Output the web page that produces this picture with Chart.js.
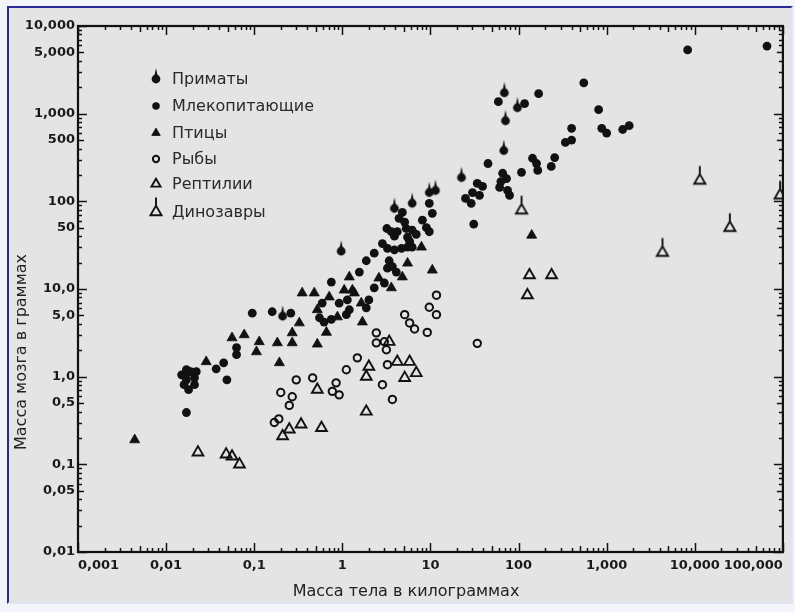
<!DOCTYPE html>
<html lang="ru">
<head>
  <meta charset="UTF-8">
  <title>Масса мозга и масса тела</title>
  <script src="https://cdn.jsdelivr.net/npm/chart.js"></script>
  <style>
    html, body { margin: 0; padding: 0; background: #f3f5fb; }
    #frame {
      position: absolute; left: 7px; top: 6px; width: 782px; height: 594px;
      border-top: 2px solid #2a2a96; border-left: 2px solid #2a2a96;
      border-right: 2px solid #dfe3f3; border-bottom: 2px solid #dfe3f3;
      background: #e4e4e4; overflow: hidden;
    }
    #chart { display: block; }
  </style>
</head>
<body>
<div id="frame"><canvas id="chart" width="782" height="594"></canvas></div>

<script>
  // масса тела (кг), масса мозга (г)
  const seriesNames = ['Приматы', 'Млекопитающие', 'Птицы', 'Рыбы', 'Рептилии', 'Динозавры'];

  const primates = [[69,1730],[97,1170],[71,830],[68,380],[22.5,187],[11.4,133],[9.7,126],
    [6.2,95],[3.9,83],[0.97,27],[0.21,4.9]];

  const mammals = [[8300,5340],[66000,5900],[550,2250],[169,1690],[59,1370],[117,1300],[810,1110],
    [880,680],[1000,600],[1520,660],[1800,730],[400,680],[340,470],[400,500],[257,316],[235,250],
    [144,310],[160,270],[165,225],[108,214],[45,270],[66,209],[73,182],[63,168],[61,144],[75,133],
    [79,117],[34,160],[39,148],[30,126],[36,117],[29,95],[25,108],[31,55],
    [9.7,95],[10.5,73],[4.8,75],[4.4,64],[5.1,58],[8.1,61],[9.0,50],[9.7,45],[3.2,49],[3.6,45],
    [3.9,40],[4.2,45],[5.3,49],[6.2,47],[6.9,42],[5.5,39],[5.8,35],[2.85,33],[3.25,29],[3.9,28],
    [4.7,29],[5.5,30],[6.2,30],[3.4,21],[3.7,18],[4.1,15.6],[3.25,17.3],[1.87,21],[2.3,25.6],
    [1.56,15.6],[0.75,12],[2.3,10.3],[3.0,11.7],
    [0.16,5.5],[0.26,5.3],[0.095,5.3],[0.59,6.9],[0.92,6.9],[1.14,7.5],[2.0,7.5],[1.87,6.1],
    [0.55,4.7],[0.62,4.2],[0.75,4.5],[1.11,5.1],[1.2,5.8],
    [0.017,0.39],[0.049,0.92],[0.015,1.05],[0.017,1.2],[0.019,1.14],[0.021,0.97],[0.016,0.81],
    [0.018,0.71],[0.021,0.81],[0.017,0.92],[0.022,1.14],[0.0165,1.0],[0.037,1.23],[0.045,1.44],
    [0.063,2.14],[0.063,1.78]];

  const birds = [[0.0044,0.19],[0.0285,1.48],[0.056,2.77],[0.077,3.0],[0.114,2.5],[0.106,1.92],
    [0.183,2.43],[0.193,1.44],[0.27,3.16],[0.27,2.43],[0.325,4.1],[0.35,9.0],[0.48,9.0],[0.52,5.8],
    [0.52,2.35],[0.66,3.2],[0.71,8.1],[0.88,4.8],[1.05,9.7],[1.3,9.7],[1.2,13.7],[1.37,9.0],
    [1.64,6.9],[1.69,4.2],[5.5,19.7],[4.8,13.7],[7.9,30],[10.5,16.4],[141,41],[2.6,13.3],[3.6,10.3]];

  const fish = [[0.169,0.30],[0.19,0.33],[0.20,0.66],[0.27,0.59],[0.25,0.47],[0.30,0.92],[0.46,0.97],
    [0.77,0.68],[0.85,0.85],[0.92,0.62],[1.11,1.2],[1.48,1.64],[2.43,3.16],[2.43,2.43],[3.0,2.5],
    [3.16,2.03],[2.85,0.81],[3.25,1.37],[3.7,0.55],[5.1,5.1],[5.8,4.1],[6.6,3.5],[9.2,3.2],
    [9.7,6.2],[11.7,8.5],[11.7,5.1],[34,2.4]];

  const reptiles = [[0.023,0.137],[0.048,0.13],[0.056,0.123],[0.068,0.10],[0.21,0.21],[0.25,0.25],
    [0.34,0.285],[0.58,0.26],[0.52,0.71],[1.87,0.40],[1.87,1.0],[2.0,1.3],[3.4,2.5],[4.2,1.48],
    [5.8,1.48],[6.9,1.1],[5.1,0.97],[133,14.4],[237,14.4],[126,8.5]];

  const dinosaurs = [[108,79],[4300,26],[11400,173],[25000,50],[93000,117]];

  const xTickValues = [0.001, 0.01, 0.1, 1, 10, 100, 1000, 10000, 100000];
  const xTickLabels = ['0,001', '0,01', '0,1', '1', '10', '100', '1,000', '10,000', '100,000'];
  const yTickValues = [0.01, 0.05, 0.1, 0.5, 1, 5, 10, 50, 100, 500, 1000, 5000, 10000];
  const yTickLabels = ['0,01', '0,05', '0,1', '0,5', '1,0', '5,0', '10,0', '50', '100', '500', '1,000', '5,000', '10,000'];

  const xTitle = 'Масса тела в килограммах';
  const yTitle = 'Масса мозга в граммах';

  const INK = '#111';
  const FONT = 'DejaVu Sans';

  // маркеры со "штырьком" сверху (приматы, динозавры)
  function makeMarker(kind) {
    const c = document.createElement('canvas');
    c.width = 16; c.height = 34;
    const g = c.getContext('2d');
    const cx = 8, cy = 17;
    g.fillStyle = INK; g.strokeStyle = INK;
    if (kind === 'primate') {
      g.beginPath(); g.arc(cx, cy, 4.4, 0, Math.PI * 2); g.fill();
      g.beginPath(); g.moveTo(cx - 1.8, cy - 2); g.lineTo(cx, cy - 11); g.lineTo(cx + 1.8, cy - 2); g.fill();
    } else {
      const r = 6.4;
      g.lineWidth = 1.9;
      g.beginPath();
      g.moveTo(cx, cy - r); g.lineTo(cx + r * 0.866, cy + r * 0.5); g.lineTo(cx - r * 0.866, cy + r * 0.5);
      g.closePath(); g.stroke();
      g.beginPath(); g.moveTo(cx, cy - r); g.lineTo(cx, cy - r - 8); g.stroke();
    }
    return c;
  }
  const primateMark = makeMarker('primate');
  const dinoMark = makeMarker('dino');

  const toXY = arr => arr.map(p => ({ x: p[0], y: p[1] }));

  const styles = {
    'Приматы':       { pointStyle: primateMark, pointRadius: 4.4, pointBackgroundColor: INK, pointBorderWidth: 0 },
    'Млекопитающие': { pointStyle: 'circle', pointRadius: 4.4, pointBackgroundColor: INK, pointBorderWidth: 0 },
    'Птицы':         { pointStyle: 'triangle', pointRadius: 5.8, pointBackgroundColor: INK, pointBorderColor: INK, pointBorderWidth: 0.8 },
    'Рыбы':          { pointStyle: 'circle', pointRadius: 3.7, pointBackgroundColor: 'rgba(0,0,0,0)', pointBorderColor: INK, pointBorderWidth: 2 },
    'Рептилии':      { pointStyle: 'triangle', pointRadius: 6.2, pointBackgroundColor: 'rgba(0,0,0,0)', pointBorderColor: INK, pointBorderWidth: 1.9 },
    'Динозавры':     { pointStyle: dinoMark, pointRadius: 6.4, pointBackgroundColor: INK, pointBorderWidth: 0 }
  };

  const seriesData = {
    'Приматы': primates, 'Млекопитающие': mammals, 'Птицы': birds,
    'Рыбы': fish, 'Рептилии': reptiles, 'Динозавры': dinosaurs
  };

  // порядок отрисовки: сначала открытые значки
  const drawOrder = ['Рыбы', 'Рептилии', 'Динозавры', 'Птицы', 'Млекопитающие', 'Приматы'];
  const datasets = drawOrder.map(name => Object.assign({
    label: name,
    data: toXY(seriesData[name]),
    showLine: false
  }, styles[name]));

  function logTicks(min, max) {
    const out = [];
    const e0 = Math.round(Math.log10(min)), e1 = Math.round(Math.log10(max));
    for (let e = e0; e < e1; e++) {
      for (let m = 1; m <= 9; m++) out.push([m * Math.pow(10, e), m === 1 ? 9 : (m === 5 ? 6 : 4)]);
    }
    out.push([max, 9]);
    return out;
  }

  const frameAndTicks = {
    id: 'frameAndTicks',
    beforeDatasetsDraw(chart) {
      const { ctx, chartArea: ca, scales: { x, y } } = chart;
      ctx.save();
      ctx.strokeStyle = INK;
      ctx.lineWidth = 1.5;
      ctx.beginPath();
      logTicks(x.min, x.max).forEach(([v, len]) => {
        const px = Math.round(x.getPixelForValue(v)) + 0.5;
        ctx.moveTo(px, ca.bottom); ctx.lineTo(px, ca.bottom - len);
        ctx.moveTo(px, ca.top); ctx.lineTo(px, ca.top + len);
      });
      logTicks(y.min, y.max).forEach(([v, len]) => {
        const py = Math.round(y.getPixelForValue(v)) + 0.5;
        ctx.moveTo(ca.left, py); ctx.lineTo(ca.left + len, py);
        ctx.moveTo(ca.right, py); ctx.lineTo(ca.right - len, py);
      });
      ctx.stroke();
      ctx.lineWidth = 2.2;
      ctx.strokeRect(ca.left, ca.top, ca.right - ca.left, ca.bottom - ca.top);
      ctx.restore();
    },
    afterDraw(chart) {
      const { ctx } = chart;
      ctx.save();
      // подписи осей
      ctx.fillStyle = '#222';
      ctx.font = '16px "' + FONT + '"';
      ctx.textAlign = 'center';
      ctx.textBaseline = 'middle';
      ctx.fillText(xTitle, 397, 584);
      ctx.translate(13, 344);
      ctx.rotate(-Math.PI / 2);
      ctx.fillText(yTitle, 0, 0);
      ctx.restore();

      // легенда внутри поля графика
      ctx.save();
      const rows = [71, 98, 125, 151, 176, 204];
      ctx.font = '16px "' + FONT + '"';
      ctx.textBaseline = 'middle';
      ctx.textAlign = 'left';
      seriesNames.forEach((name, i) => {
        const s = styles[name];
        const yy = rows[i];
        ctx.fillStyle = s.pointBackgroundColor;
        ctx.strokeStyle = s.pointBorderColor || INK;
        ctx.lineWidth = s.pointBorderWidth;
        Chart.helpers.drawPoint(ctx, {
          pointStyle: s.pointStyle, radius: s.pointRadius * 0.85,
          borderWidth: s.pointBorderWidth, rotation: 0
        }, 147, yy);
        ctx.fillStyle = '#2a2a2a';
        ctx.fillText(name, 163, yy + 1);
      });
      ctx.restore();
    }
  };

  const tickFont = { family: FONT, size: 13, weight: 'bold' };

  new Chart(document.getElementById('chart'), {
    type: 'scatter',
    data: { datasets: datasets },
    options: {
      responsive: false,
      animation: false,
      devicePixelRatio: 1,
      layout: { padding: { left: 0, right: 6, top: 18, bottom: 0 } },
      plugins: { legend: { display: false }, tooltip: { enabled: false } },
      scales: {
        x: {
          type: 'logarithmic', min: 0.001, max: 100000,
          grid: { display: false, drawTicks: false },
          border: { display: false },
          afterBuildTicks: s => { s.ticks = xTickValues.map(v => ({ value: v })); },
          afterFit: s => { s.height = 50; s.paddingLeft = 0; s.paddingRight = 0; },
          ticks: {
            autoSkip: false, maxRotation: 0, align: 'inner', padding: 6,
            color: '#1a1a1a', font: tickFont,
            callback: (v, i) => xTickLabels[i]
          }
        },
        y: {
          type: 'logarithmic', min: 0.01, max: 10000,
          grid: { display: false, drawTicks: false },
          border: { display: false },
          afterBuildTicks: s => { s.ticks = yTickValues.map(v => ({ value: v })); },
          afterFit: s => { s.width = 69; s.paddingTop = 0; s.paddingBottom = 0; },
          ticks: {
            autoSkip: false, padding: 3,
            color: '#1a1a1a', font: tickFont,
            callback: (v, i) => yTickLabels[i]
          }
        }
      }
    },
    plugins: [frameAndTicks]
  });
</script>
</body>
</html>
